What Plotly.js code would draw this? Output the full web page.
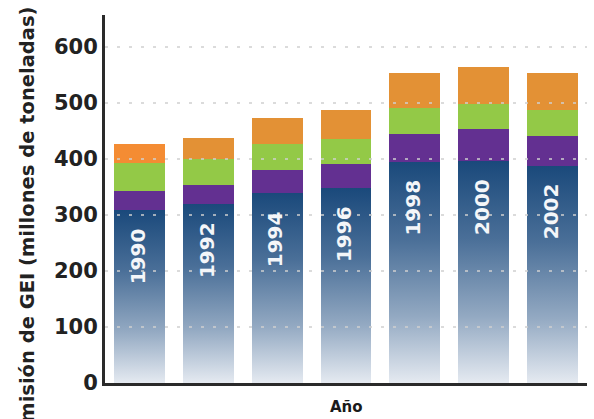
<!DOCTYPE html>
<html>
<head>
<meta charset="utf-8">
<script src="https://cdn.plot.ly/plotly-3.0.1.min.js"></script>
<style>
html,body{margin:0;padding:0;background:#fff;}
#chart{width:594px;height:419px;}
</style>
</head>
<body>
<div id="chart"></div>
<script>
var years = ['1990','1992','1994','1996','1998','2000','2002'];
var seriesBlue   = [309, 320, 339, 348, 395, 396, 388];
var seriesPurple = [34, 34, 41, 43, 50, 58, 53];
var seriesGreen  = [49, 46, 47, 45, 46, 44, 47];
var seriesOrange = [35, 38, 46, 52, 63, 66, 66];
var orangeColors = ['#F48C33','#E39135','#E39135','#E39135','#E39135','#E39135','#E39135'];
var yTicks = [0, 100, 200, 300, 400, 500, 600];
var yTickLabels = ['0','100','200','300','400','500','600'];

var font = '"DejaVu Sans", sans-serif';

var traces = [
  {type:'bar', x: years, y: seriesBlue, marker:{color:'#1B4A7B'}, hoverinfo:'none'},
  {type:'bar', x: years, y: seriesPurple, marker:{color:'#633091'}, hoverinfo:'none'},
  {type:'bar', x: years, y: seriesGreen, marker:{color:'#93C947'}, hoverinfo:'none'},
  {type:'bar', x: years, y: seriesOrange, marker:{color:orangeColors}, hoverinfo:'none'}
];

var shapes = yTicks.filter(function(v){return v>0;}).map(function(v){
  return {type:'line', xref:'paper', yref:'y', x0:0, x1:1, y0:v, y1:v, layer:'above',
          line:{color:'#cfcfcf', width:1.6, dash:'3px,9px'}};
});

var annotations = years.map(function(yr, i){
  return {x: i, y: seriesBlue[i], xref:'x', yref:'y', text: '<b>' + yr + '</b>', showarrow:false,
          textangle:-90, yanchor:'top', xanchor:'center', yshift:-16, xshift:-2,
          font:{family:font, size:20, color:'#f4f6f9'}};
});
annotations.push({xref:'paper', yref:'paper', x:0.5, y:0, yanchor:'top', yshift:-13,
  text:'<b>Año</b>', showarrow:false, font:{family:font, size:15, color:'#1a1a1a'}});
annotations.push({xref:'paper', yref:'paper', x:0, y:0.5, xanchor:'center', yanchor:'middle',
  xshift:-78, yshift:-22, textangle:-90, showarrow:false,
  text:'<b>Emisión de GEI (millones de toneladas)</b>',
  font:{family:font, size:19.5, color:'#222'}});

var layout = {
  width:594, height:419,
  margin:{l:105, r:7, t:15, b:36},
  barmode:'stack', bargap:0.26,
  showlegend:false,
  paper_bgcolor:'#fff', plot_bgcolor:'#fff',
  xaxis:{type:'category', range:[-0.5, years.length-0.5], showticklabels:false, showgrid:false, zeroline:false,
         showline:true, linecolor:'#2a2a2a', linewidth:3, ticks:''},
  yaxis:{range:[0,657], tickvals:yTicks, ticktext:yTickLabels, showgrid:false, zeroline:false,
         showline:true, linecolor:'#2a2a2a', linewidth:3, ticks:'', ticklabelstandoff:0,
         tickfont:{family:font, size:21, color:'#222', weight:'bold'}},
  shapes: shapes,
  annotations: annotations
};

Plotly.newPlot('chart', traces, layout, {staticPlot:true, displayModeBar:false}).then(function(gd){
  var svg = gd.querySelector('svg.main-svg');
  var defs = svg.querySelector('defs');
  var ns = 'http://www.w3.org/2000/svg';
  var g = document.createElementNS(ns, 'linearGradient');
  g.setAttribute('id','blueGrad');
  g.setAttribute('x1','0'); g.setAttribute('y1','0'); g.setAttribute('x2','0'); g.setAttribute('y2','1');
  [['0','#1A497B'],['0.35','#4A6F98'],['0.7','#93A9C2'],['1','#E5EAF1']].forEach(function(s){
    var st = document.createElementNS(ns,'stop');
    st.setAttribute('offset', s[0]); st.setAttribute('stop-color', s[1]);
    g.appendChild(st);
  });
  defs.appendChild(g);
  var traceGroups = gd.querySelectorAll('g.trace.bars');
  if (traceGroups.length) {
    traceGroups[0].querySelectorAll('path').forEach(function(p){ p.style.fill = 'url(#blueGrad)'; });
  }
});
</script>
</body>
</html>
